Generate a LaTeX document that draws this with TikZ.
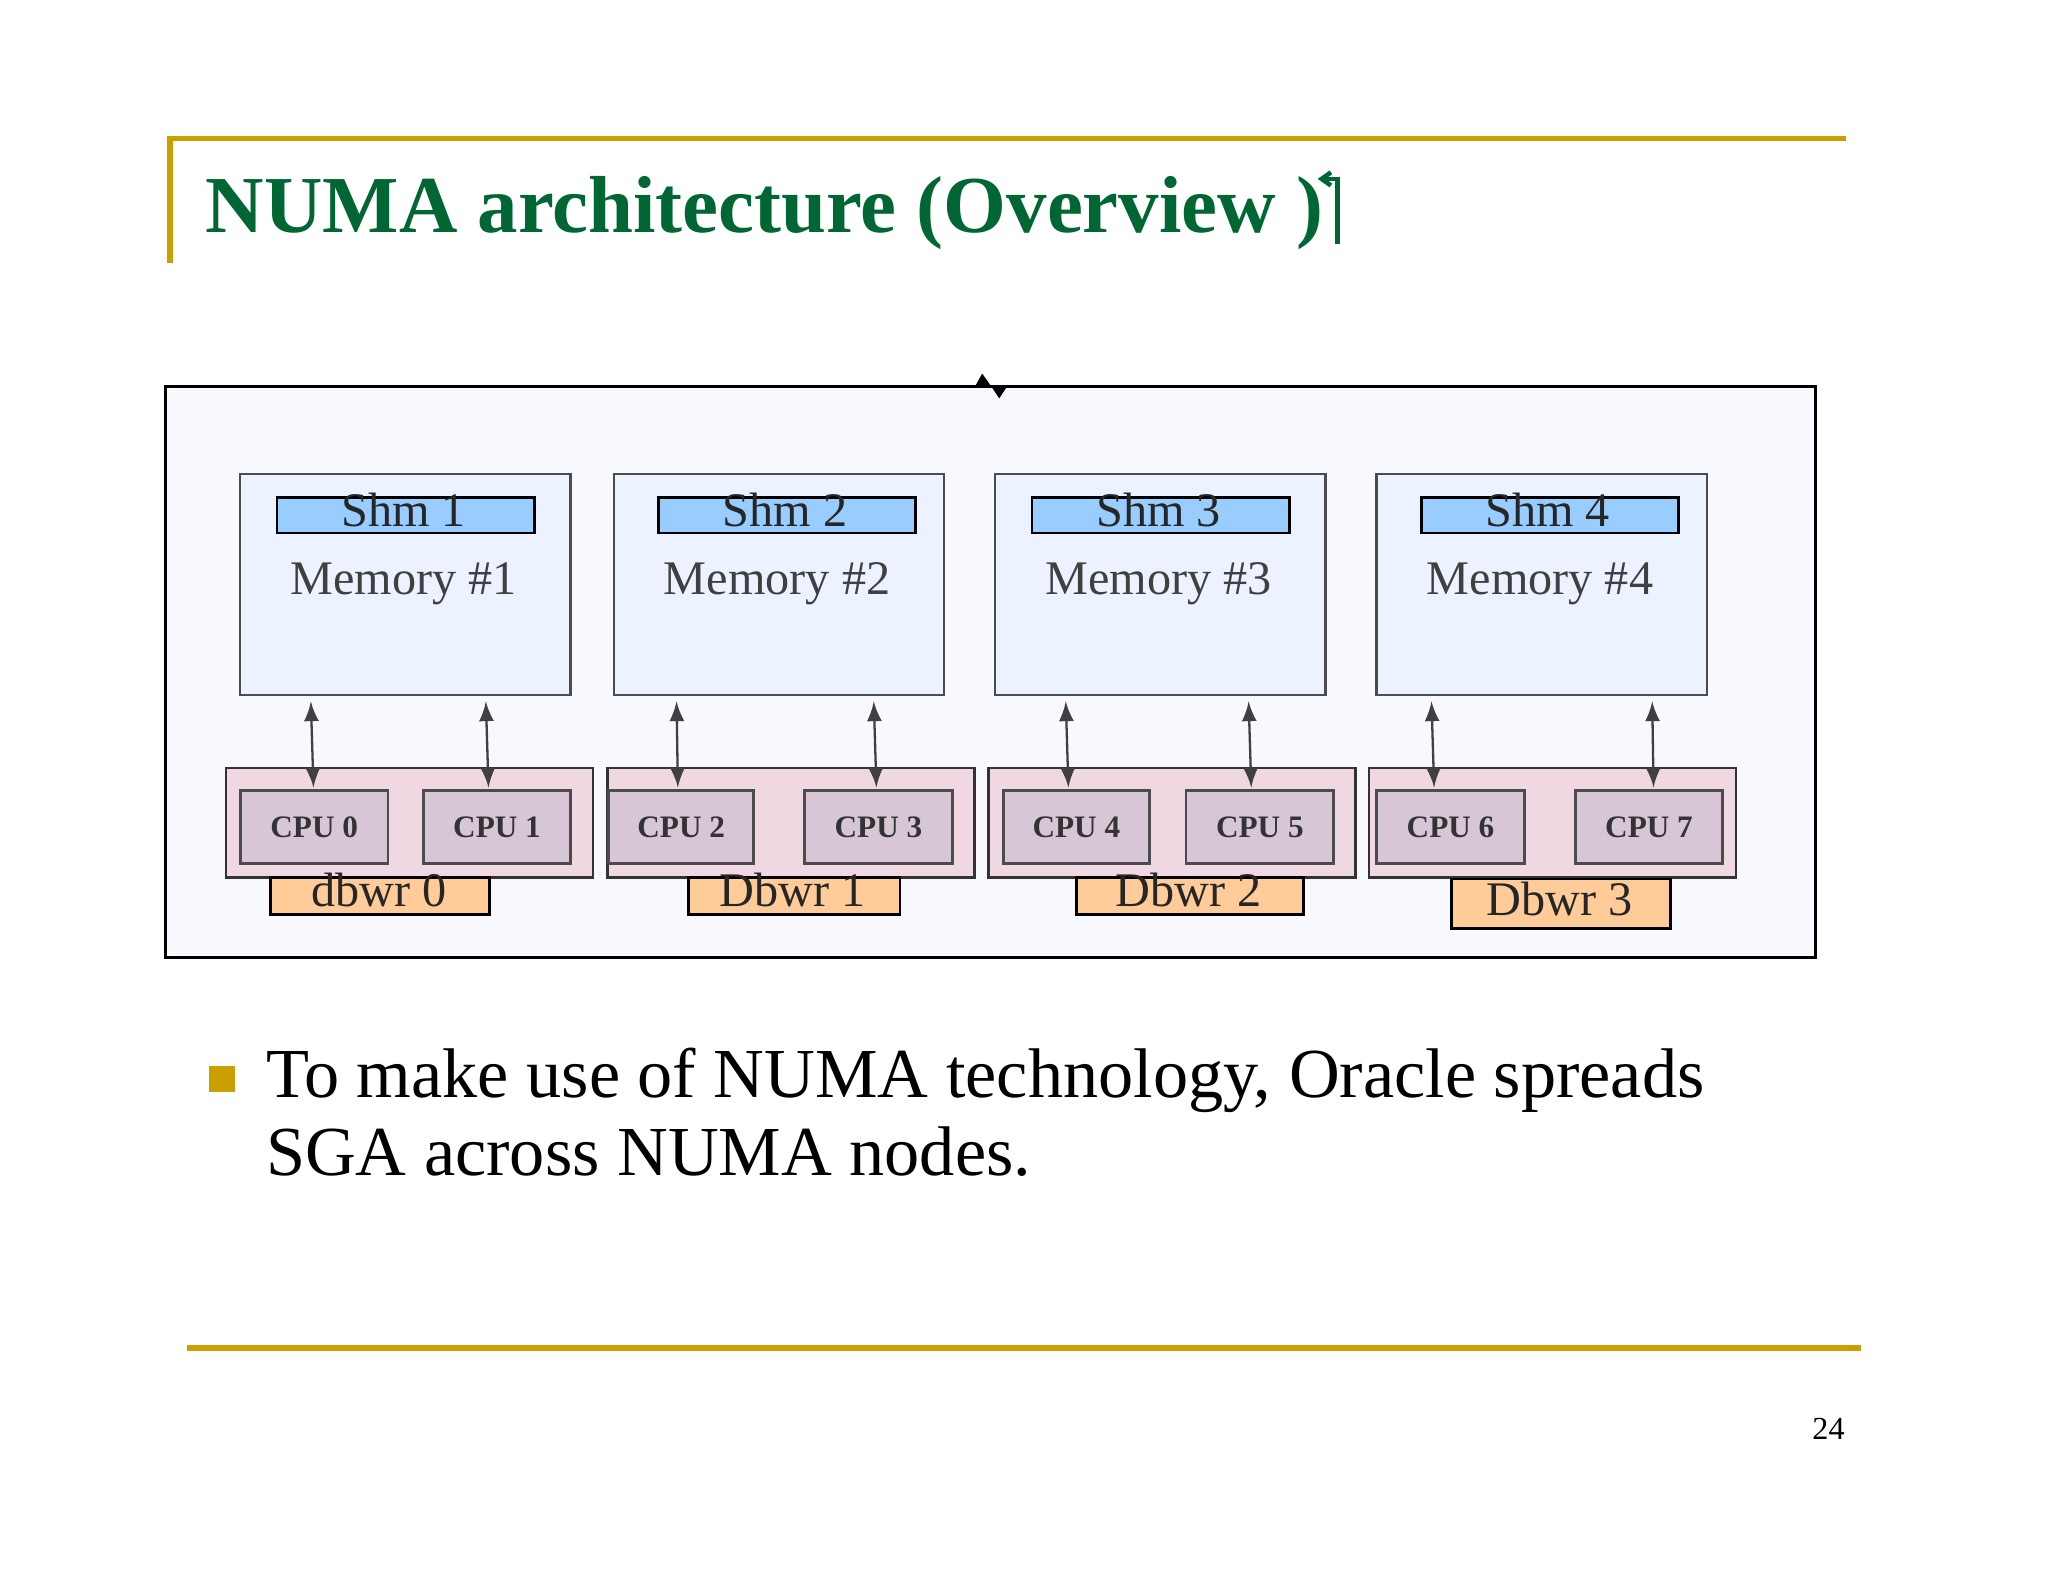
\documentclass[tikz,border=0pt]{standalone}
\usepackage{fontspec}
\setmainfont{Liberation Serif}
\begin{document}
\begin{tikzpicture}[x=0.01cm,y=-0.01cm,
  mem/.style={draw=black!70,fill={rgb,255:red,236;green,242;blue,255},line width=0.5pt},
  shm/.style={draw=black,fill={rgb,255:red,153;green,204;blue,255},line width=0.6pt},
  grp/.style={draw=black!80,fill={rgb,255:red,240;green,216;blue,226},line width=0.6pt},
  cpu/.style={draw=black!70,fill={rgb,255:red,214;green,198;blue,214},line width=0.6pt},
  dbw/.style={draw=black,fill={rgb,255:red,255;green,204;blue,153},line width=0.6pt},
  lab/.style={font=\fontsize{10.5pt}{12pt}\selectfont,text=black!85,inner sep=0,anchor=base},
  cpul/.style={font=\bfseries\fontsize{6.8pt}{8pt}\selectfont,text=black!80},
  arr/.style={<->,>=latex,line width=0.5pt,black!75}]
\useasboundingbox (0,0) rectangle (1568,1210);
\definecolor{gold}{RGB}{201,160,0}
\definecolor{tgreen}{RGB}{0,102,51}
\draw[gold,line width=1.2pt] (130,201) -- (130,106) -- (1413,106);
\draw[gold,line width=1.2pt] (143,1032) -- (1425,1032);
\node[anchor=base west,text=tgreen,font=\bfseries\fontsize{17.6pt}{22pt}\selectfont,inner sep=0] (title) at (157,178) {NUMA architecture (Overview )};
\coordinate (gl) at ([xshift=3pt]title.east);
\draw[tgreen,line width=1pt] ([xshift=-3.5pt]gl |- 0,137) -- (gl |- 0,137) -- (gl |- 0,187);
\draw[tgreen,line width=1pt] ([xshift=-1.5pt]gl |- 0,132) -- ([xshift=-3.5pt]gl |- 0,137) -- ([xshift=-1.5pt]gl |- 0,142);
\node[font=\fontsize{7pt}{8pt}\selectfont,inner sep=0] (pg) at (1400,1094) {24};
% outer box
\draw[black,fill={rgb,255:red,248;green,249;blue,255},line width=0.6pt] (127,296) rectangle (1390,733);
\fill (747,295) -- (752,286) -- (759,296) -- cycle;
\fill (759,296) -- (771,296) -- (765,305) -- cycle;
% memories
\foreach \i/\x/\sx/\gx [count=\n] in
 {1/183/211/172,
  2/469/503/464,
  3/761/789/756,
  4/1053/1087/1047}{
  \node[mem,minimum width=253*0.01cm,minimum height=169*0.01cm,anchor=north west,inner sep=0] (m\n) at (\x,362) {};
  \node[shm,minimum width=197*0.01cm,minimum height=27*0.01cm,anchor=north west,inner sep=0] (s\n) at (\sx,380) {};
  \node[lab] (st\n) at (\sx+98,403) {Shm \i};
  \node[lab,text=black!75] (mt\n) at (\x+126,455) {Memory \#\i};
  \node[grp,minimum width=281*0.01cm,minimum height=84*0.01cm,anchor=north west,inner sep=0] (g\n) at (\gx,587) {};
}
% CPUs
\foreach \c/\x/\w in {0/183/113,1/323/113,2/465/111,3/615/113,4/767/112,5/907/113,6/1053/113,7/1205/113}{
  \node[cpu,minimum width=\w*0.01cm,minimum height=56*0.01cm,anchor=north west,inner sep=0] (c\c) at (\x,604) {};
  \node[cpul,inner sep=0] (ct\c) at (c\c.center) {CPU \c};
}
% dbwr
\node[dbw,minimum width=168*0.01cm,minimum height=28*0.01cm,anchor=north west,inner sep=0] (d0) at (206,671) {};
\node[dbw,minimum width=162*0.01cm,minimum height=28*0.01cm,anchor=north west,inner sep=0] (d1) at (526,671) {};
\node[dbw,minimum width=174*0.01cm,minimum height=28*0.01cm,anchor=north west,inner sep=0] (d2) at (823,671) {};
\node[dbw,minimum width=168*0.01cm,minimum height=38*0.01cm,anchor=north west,inner sep=0] (d3) at (1110,672) {};
\node[lab] at (290,694) {dbwr 0};
\node[lab] at (607,694) {Dbwr 1};
\node[lab] at (910,694) {Dbwr 2};
\node[lab] at (1194,701) {Dbwr 3};
% arrows
\foreach \a/\b/\k in {238/240/a0,372/374/a1,518/519/a2,669/671/a3,816/818/a4,956/958/a5,1096/1098/a6,1265/1266/a7}{
  \coordinate (\k t) at (\a,537);
  \coordinate (\k b) at (\b,603);
  \draw[arr] (\k t) -- (\k b);
}
% bullet
\fill[gold] (160,816) rectangle (180,836);
\node[anchor=base west,inner sep=0,font=\fontsize{15.3pt}{19pt}\selectfont] (txt) at (203,840) {To make use of NUMA technology, Oracle spreads};
\node[anchor=base west,inner sep=0,font=\fontsize{15.3pt}{19pt}\selectfont] (txt2) at (203,900) {SGA across NUMA nodes.};
\end{tikzpicture}
\end{document}
